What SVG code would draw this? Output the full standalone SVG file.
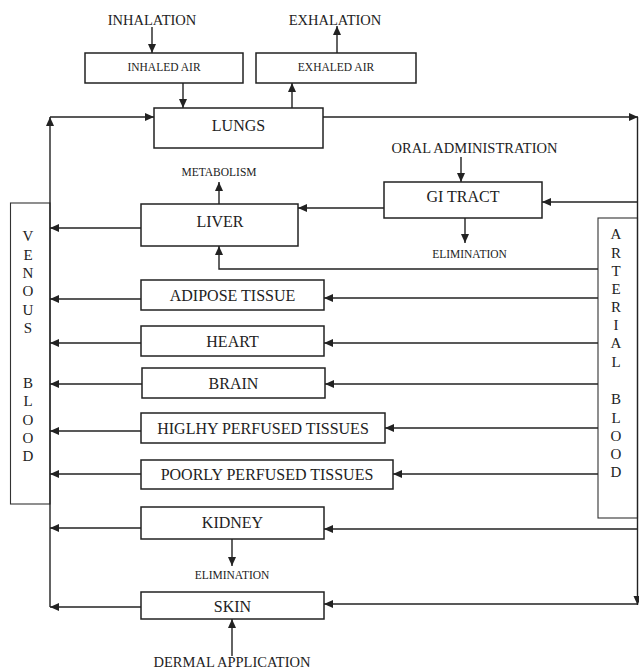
<svg xmlns="http://www.w3.org/2000/svg" width="639" height="671" viewBox="0 0 639 671">
<style>
.bg{fill:#fff}
.box{fill:#fff;stroke:#222;stroke-width:1.5}
.bbox{fill:#fff;stroke:#333;stroke-width:1.1}
.ln{fill:none;stroke:#222;stroke-width:1.4}
.t{font-family:"Liberation Serif","Times New Roman",serif;fill:#222;text-anchor:middle}
.l{font-size:16px}
.m{font-size:14.5px}
.s{font-size:11.5px}
.v{font-size:15px}
</style>
<defs>
<marker id="ah" markerUnits="userSpaceOnUse" markerWidth="10" markerHeight="9" refX="9" refY="4" orient="auto">
<path d="M0,0 L9,4 L0,8 z" fill="#222"/>
</marker>
</defs>
<rect class="bg" x="0" y="0" width="639" height="671"/>

<g id="venous-blood">
<rect class="bbox" x="10.5" y="203" width="39.5" height="301"/>
<text class="t v" x="28" y="241">V</text>
<text class="t v" x="28" y="260">E</text>
<text class="t v" x="28" y="278">N</text>
<text class="t v" x="28" y="296">O</text>
<text class="t v" x="28" y="315">U</text>
<text class="t v" x="28" y="333">S</text>
<text class="t v" x="28" y="388">B</text>
<text class="t v" x="28" y="406">L</text>
<text class="t v" x="28" y="425">O</text>
<text class="t v" x="28" y="443">O</text>
<text class="t v" x="28" y="461">D</text>
</g>

<g id="arterial-blood">
<rect class="bbox" x="598" y="218" width="39.5" height="300"/>
<text class="t v" x="616" y="239">A</text>
<text class="t v" x="616" y="258">R</text>
<text class="t v" x="616" y="276">T</text>
<text class="t v" x="616" y="294">E</text>
<text class="t v" x="616" y="312">R</text>
<text class="t v" x="616" y="330">I</text>
<text class="t v" x="616" y="348">A</text>
<text class="t v" x="616" y="367">L</text>
<text class="t v" x="616" y="404">B</text>
<text class="t v" x="616" y="423">L</text>
<text class="t v" x="616" y="441">O</text>
<text class="t v" x="616" y="459">O</text>
<text class="t v" x="616" y="477">D</text>
</g>

<g id="connectors">
<path class="ln" d="M152,27 L152,53" marker-end="url(#ah)"/>
<path class="ln" d="M183,83 L183,108" marker-end="url(#ah)"/>
<path class="ln" d="M292,108 L292,83" marker-end="url(#ah)"/>
<path class="ln" d="M337,53 L337,26" marker-end="url(#ah)"/>
<path class="ln" d="M50,607 L50,117" marker-end="url(#ah)"/>
<path class="ln" d="M50,117 L154,117" marker-end="url(#ah)"/>
<path class="ln" d="M323,117 L638,117" marker-end="url(#ah)"/>
<path class="ln" d="M637.5,117 L637.5,605" marker-end="url(#ah)"/>
<path class="ln" d="M461,157 L461,182" marker-end="url(#ah)"/>
<path class="ln" d="M637,202 L542,202" marker-end="url(#ah)"/>
<path class="ln" d="M384,208 L298,208" marker-end="url(#ah)"/>
<path class="ln" d="M465,218 L465,243" marker-end="url(#ah)"/>
<path class="ln" d="M219,204 L219,182" marker-end="url(#ah)"/>
<path class="ln" d="M598,269 L219,269 L219,246" marker-end="url(#ah)"/>
<path class="ln" d="M141,228 L50,228" marker-end="url(#ah)"/>
<path class="ln" d="M598,298 L324,298" marker-end="url(#ah)"/>
<path class="ln" d="M141,299 L50,299" marker-end="url(#ah)"/>
<path class="ln" d="M598,343 L324,343" marker-end="url(#ah)"/>
<path class="ln" d="M141,343 L50,343" marker-end="url(#ah)"/>
<path class="ln" d="M598,384 L325,384" marker-end="url(#ah)"/>
<path class="ln" d="M142,384 L50,384" marker-end="url(#ah)"/>
<path class="ln" d="M598,428 L385,428" marker-end="url(#ah)"/>
<path class="ln" d="M141,431 L50,431" marker-end="url(#ah)"/>
<path class="ln" d="M598,474 L393,474" marker-end="url(#ah)"/>
<path class="ln" d="M141,474 L50,474" marker-end="url(#ah)"/>
<path class="ln" d="M637,529 L324,529" marker-end="url(#ah)"/>
<path class="ln" d="M141,528 L50,528" marker-end="url(#ah)"/>
<path class="ln" d="M232,539 L232,566" marker-end="url(#ah)"/>
<path class="ln" d="M637,604 L324,604" marker-end="url(#ah)"/>
<path class="ln" d="M141,607 L50,607" marker-end="url(#ah)"/>
<path class="ln" d="M232,656 L232,619" marker-end="url(#ah)"/>
</g>

<g id="inhalation"><text class="t m" x="152" y="24.5">INHALATION</text></g>
<g id="exhalation"><text class="t m" x="335" y="24.5">EXHALATION</text></g>
<g id="inhaled-air">
<rect class="box" x="85" y="53" width="158" height="30"/>
<text class="t s" x="164" y="71">INHALED AIR</text>
</g>
<g id="exhaled-air">
<rect class="box" x="256" y="53" width="160" height="30"/>
<text class="t s" x="336" y="71">EXHALED AIR</text>
</g>
<g id="lungs">
<rect class="box" x="154" y="108" width="169" height="40"/>
<text class="t l" x="238.5" y="130.5">LUNGS</text>
</g>
<g id="metabolism"><text class="t s" x="219" y="176">METABOLISM</text></g>
<g id="oral-administration"><text class="t m" x="474.5" y="153">ORAL ADMINISTRATION</text></g>
<g id="gi-tract">
<rect class="box" x="384" y="182" width="158" height="36"/>
<text class="t l" x="463" y="202">GI TRACT</text>
</g>
<g id="elimination-gi"><text class="t s" x="469.5" y="258">ELIMINATION</text></g>
<g id="liver">
<rect class="box" x="141" y="204" width="157" height="42"/>
<text class="t l" x="220" y="226.5">LIVER</text>
</g>
<g id="adipose">
<rect class="box" x="141" y="280" width="183" height="30"/>
<text class="t l" x="232.5" y="301">ADIPOSE TISSUE</text>
</g>
<g id="heart">
<rect class="box" x="141" y="326" width="183" height="30"/>
<text class="t l" x="232.5" y="347">HEART</text>
</g>
<g id="brain">
<rect class="box" x="142" y="368" width="183" height="30"/>
<text class="t l" x="233.5" y="389">BRAIN</text>
</g>
<g id="highly-perfused">
<rect class="box" x="141" y="413" width="244" height="30"/>
<text class="t l" x="263" y="434">HIGLHY PERFUSED TISSUES</text>
</g>
<g id="poorly-perfused">
<rect class="box" x="141" y="460" width="252" height="29"/>
<text class="t l" x="267" y="480">POORLY PERFUSED TISSUES</text>
</g>
<g id="kidney">
<rect class="box" x="141" y="507" width="183" height="32"/>
<text class="t l" x="232.5" y="528">KIDNEY</text>
</g>
<g id="elimination-kidney"><text class="t s" x="232" y="579">ELIMINATION</text></g>
<g id="skin">
<rect class="box" x="141" y="592" width="183" height="27"/>
<text class="t l" x="232.5" y="612">SKIN</text>
</g>
<g id="dermal-application"><text class="t m" x="232" y="667">DERMAL APPLICATION</text></g>
</svg>
